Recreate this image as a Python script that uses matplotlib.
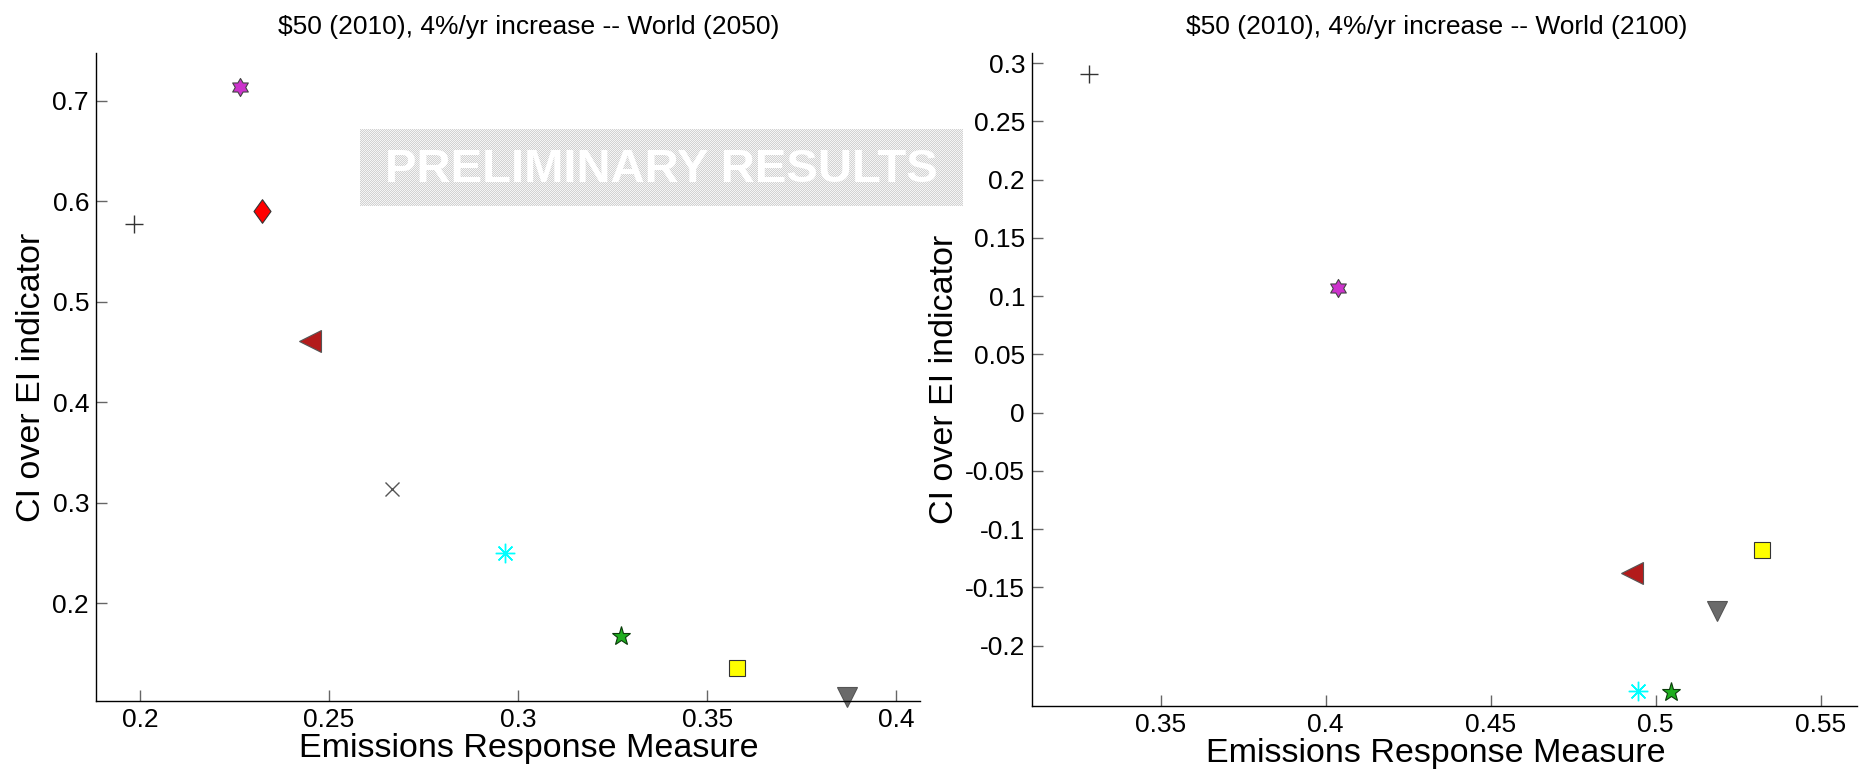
import numpy as np
import matplotlib
matplotlib.use("Agg")
import matplotlib.pyplot as plt
from matplotlib.path import Path
from matplotlib.ticker import FuncFormatter

plt.rcParams['font.family'] = ['Liberation Sans', 'DejaVu Sans']
plt.rcParams['axes.unicode_minus'] = False

# one entry per model symbol, same order in both years
symbols = ['plus', 'cross', 'asterisk', 'pentagram', 'square',
           'tri_down', 'tri_left', 'diamond', 'hexagram']
erm_2050 = [0.1984, 0.2667, 0.2966, 0.3273, 0.3579, 0.3870, 0.2450, 0.2324, 0.2266]
ci_2050 = [0.5775, 0.3135, 0.2495, 0.1674, 0.1356, 0.1060, 0.4607, 0.5907, 0.7137]
erm_2100 = [0.3283, np.nan, 0.4945, 0.5046, 0.5321, 0.5185, 0.4927, np.nan, 0.4037]
ci_2100 = [0.2910, np.nan, -0.2390, -0.2397, -0.1179, -0.1700, -0.1376, np.nan, 0.1072]

title_2050 = '$50 (2010), 4%/yr increase -- World (2050)'
title_2100 = '$50 (2010), 4%/yr increase -- World (2100)'
xticks_2050 = [0.2, 0.25, 0.3, 0.35, 0.4]
yticks_2050 = [0.2, 0.3, 0.4, 0.5, 0.6, 0.7]
xticks_2100 = [0.35, 0.4, 0.45, 0.5, 0.55]
yticks_2100 = [-0.2, -0.15, -0.1, -0.05, 0, 0.05, 0.1, 0.15, 0.2, 0.25, 0.3]

# custom marker shapes
diamond = Path([(0, 1), (0.72, 0), (0, -1), (-0.72, 0), (0, 1)],
               [Path.MOVETO, Path.LINETO, Path.LINETO, Path.LINETO, Path.CLOSEPOLY])
ang = np.linspace(np.pi / 2, np.pi / 2 + 2 * np.pi, 13)[:-1]
rad = np.where(np.arange(12) % 2 == 0, 1.0, 0.58)
hexagram = Path(np.column_stack([rad * np.cos(ang), rad * np.sin(ang)]).tolist() + [(0, 1)],
                closed=True)

styles = {
    'plus': dict(marker='+', ms=13, mec='#333333', mew=1.0),
    'cross': dict(marker='x', ms=10, mec='#555555', mew=1.0),
    'asterisk': dict(marker=(8, 2, 0), ms=14, mec='#00ffff', mew=1.0),
    'pentagram': dict(marker='*', ms=14, mfc='#1fae1f', mec='#0a3a0a', mew=0.8),
    'square': dict(marker='s', ms=11, mfc='#ffff00', mec='#333333', mew=0.8),
    'tri_down': dict(marker='v', ms=15, mfc='#6a6a6a', mec='#555555', mew=0.8),
    'tri_left': dict(marker='<', ms=16, mfc='#b31b1b', mec='#555555', mew=0.8),
    'diamond': dict(marker=diamond, ms=17, mfc='#ff0000', mec='#333333', mew=0.8),
    'hexagram': dict(marker=hexagram, ms=13, mfc='#cc33cc', mec='#444444', mew=0.8),
}

fig = plt.figure(figsize=(18.65, 7.76), dpi=100)
ax1 = fig.add_axes([96 / 1865, 1 - 701 / 776, 824 / 1865, 648 / 776])
ax2 = fig.add_axes([1032 / 1865, 1 - 706 / 776, 825 / 1865, 653 / 776])

fmt = FuncFormatter(lambda v, p: '%g' % round(v, 4))


def draw(ax, xs, ys, title, xt, yt, xlim, ylim, xc):
    for name, x, y in zip(symbols, xs, ys):
        if np.isnan(x):
            continue
        ax.plot([x], [y], ls='none', clip_on=False, **styles[name])
    ax.set_xlim(*xlim)
    ax.set_ylim(*ylim)
    ax.set_xticks(xt)
    ax.set_yticks(yt)
    ax.xaxis.set_major_formatter(fmt)
    ax.yaxis.set_major_formatter(fmt)
    for s in ['top', 'right']:
        ax.spines[s].set_visible(False)
    for s in ['left', 'bottom']:
        ax.spines[s].set_linewidth(1.0)
    ax.tick_params(direction='in', length=8, width=1, color='#666666',
                   labelsize=19, pad=5)
    ax.set_title(title, fontsize=19, pad=14, x=xc)
    ax.set_xlabel('Emissions Response Measure', fontsize=24.5, labelpad=1, x=xc)
    ax.set_ylabel('CI over EI indicator', fontsize=24.5, labelpad=4)


draw(ax1, erm_2050, ci_2050, title_2050, xticks_2050, yticks_2050,
     (0.1884, 0.4063), (0.1024, 0.7478), 0.525)
draw(ax2, erm_2100, ci_2100, title_2100, xticks_2100, yticks_2100,
     (0.311, 0.561), (-0.2518, 0.3087), 0.49)

# "PRELIMINARY RESULTS" stamp
wax = fig.add_axes([360 / 1865, 1 - 206 / 776, 603 / 1865, 77 / 776])
tex = (np.indices((77, 603)).sum(axis=0) % 2).astype(float)
wax.imshow(tex, cmap='gray', vmin=-5.86, vmax=1.28, interpolation='nearest',
           aspect='auto')
wax.axis('off')
fig.text(661 / 1865, 1 - 170 / 776, 'PRELIMINARY RESULTS', color='white',
         fontsize=34, fontweight='bold', ha='center', va='center')

fig.savefig('out.png', dpi=100)
